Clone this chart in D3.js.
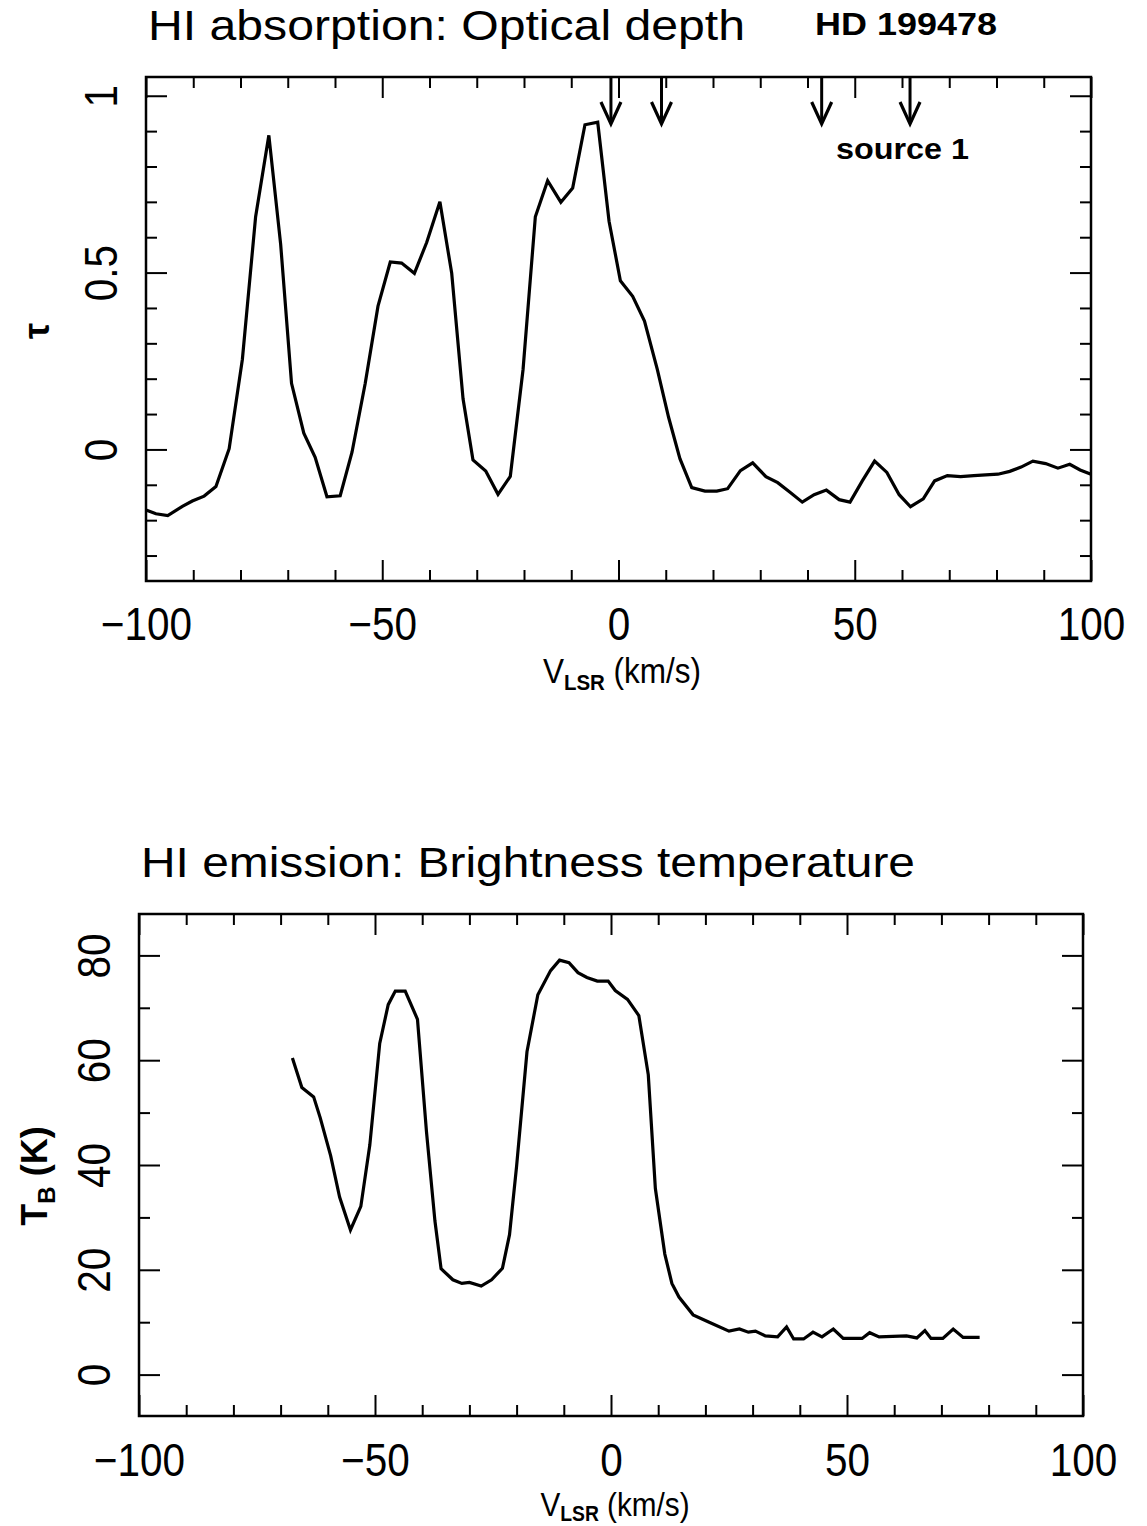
<!DOCTYPE html>
<html>
<head>
<meta charset="utf-8">
<script src="https://cdn.jsdelivr.net/npm/d3@7"></script>
<style>
body { margin: 0; background: #fff; }
svg { display: block; }
text { font-family: "Liberation Sans", Arial, sans-serif; fill: #000; }
</style>
</head>
<body>
<div id="chart"></div>
<script>
// HI absorption toward HD 199478 : optical depth vs V_LSR
var tauVel = [-100, -97.9, -95.4, -92.3, -90.2, -87.7, -85.2, -82.4, -79.6, -76.8,
	-74.0, -71.5, -69.2, -66.6, -64.2, -61.7, -58.9, -56.4, -53.6, -50.9,
	-48.3, -45.9, -43.2, -40.6, -37.8, -35.3, -32.9, -30.8, -28.1, -25.5,
	-22.9, -20.2, -17.6, -15.0, -12.2, -9.7, -7.1, -4.4, -2.0, 0.4,
	3.0, 5.5, 8.2, 10.6, 13.0, 15.5, 18.3, 20.8, 23.1, 25.8,
	28.4, 31.2, 33.7, 36.3, 38.9, 41.4, 44.0, 46.7, 49.0, 51.6,
	54.2, 56.8, 59.4, 61.8, 64.5, 66.9, 69.6, 72.4, 75.2, 77.7,
	80.3, 82.8, 85.2, 87.7, 90.4, 93.0, 95.5, 97.7, 100.0];
var tauVal = [-0.171, -0.182, -0.187, -0.161, -0.146, -0.132, -0.105, 0.002, 0.255, 0.658,
	0.888, 0.580, 0.187, 0.046, -0.022, -0.134, -0.131, -0.008, 0.187, 0.405,
	0.530, 0.527, 0.498, 0.585, 0.700, 0.498, 0.143, -0.030, -0.061, -0.127,
	-0.076, 0.226, 0.658, 0.760, 0.699, 0.739, 0.918, 0.925, 0.645, 0.477,
	0.433, 0.363, 0.227, 0.091, -0.026, -0.108, -0.118, -0.118, -0.111, -0.060,
	-0.038, -0.077, -0.094, -0.121, -0.149, -0.128, -0.115, -0.142, -0.149, -0.089,
	-0.033, -0.065, -0.128, -0.162, -0.140, -0.089, -0.074, -0.077, -0.074, -0.072,
	-0.070, -0.062, -0.050, -0.033, -0.040, -0.053, -0.042, -0.058, -0.070];

// velocities of the absorption components (arrows, "source 1")
var arrowVel = [-1.6, 9.1, 43.0, 61.7];

// HI emission : brightness temperature vs V_LSR
var tbVel = [-67.5, -65.5, -63.0, -61.6, -59.4, -57.5, -55.2, -53.0, -51.1, -49.0,
	-47.2, -45.7, -43.6, -41.0, -39.1, -37.3, -36.0, -33.5, -31.6, -30.0,
	-27.5, -25.3, -23.0, -21.5, -20.0, -17.8, -15.5, -12.8, -10.9, -8.9,
	-7.0, -5.1, -2.9, -0.6, 0.9, 3.5, 5.9, 7.9, 9.4, 11.4,
	12.9, 14.4, 17.4, 20.8, 25.0, 27.2, 29.1, 30.6, 32.7, 35.3,
	37.2, 38.7, 40.8, 42.8, 44.7, 47.1, 49.2, 53.2, 54.8, 56.8,
	62.6, 64.8, 66.5, 67.8, 70.3, 72.5, 74.6, 78.1];
var tbVal = [60.4, 54.8, 53.0, 49.0, 41.8, 33.9, 27.6, 32.1, 43.8, 63.2,
	70.6, 73.2, 73.2, 67.8, 46.4, 29.3, 20.2, 18.1, 17.4, 17.6,
	16.9, 18.1, 20.3, 26.7, 39.8, 61.6, 72.5, 77.1, 79.1, 78.6,
	76.7, 75.8, 75.1, 75.1, 73.3, 71.6, 68.5, 57.2, 35.5, 23.0,
	17.4, 14.8, 11.4, 10.0, 8.3, 8.7, 8.1, 8.3, 7.4, 7.2,
	9.1, 6.8, 6.8, 8.1, 7.2, 8.7, 6.9, 6.9, 8.0, 7.2,
	7.4, 7.0, 8.4, 6.9, 6.9, 8.7, 7.1, 7.1];

// tick values
var velMajor = [-100, -50, 0, 50, 100];
var velMinor = [-90, -80, -70, -60, -40, -30, -20, -10, 10, 20, 30, 40, 60, 70, 80, 90];
var tauMajor = [0, 0.5, 1];
var tauMinor = [-0.3, -0.2, -0.1, 0.1, 0.2, 0.3, 0.4, 0.6, 0.7, 0.8, 0.9];
var tbMajor = [0, 20, 40, 60, 80];
var tbMinor = [10, 30, 50, 70];

var totalWidth = 1147;
var totalHeight = 1526;

var svg = d3.select("#chart").append("svg")
	.attr("width", totalWidth)
	.attr("height", totalHeight);

var velFormat = d3.format("d");

function squeeze(sel, k) {
	sel.each(function () {
		var w = this.getComputedTextLength();
		d3.select(this).attr("textLength", w * k).attr("lengthAdjust", "spacingAndGlyphs");
	});
}

function buildPanel(p) {
	var w = p.right - p.left;
	var h = p.bottom - p.top;

	var x = d3.scaleLinear().domain([-100, 100]).range([0, w]);
	var y = d3.scaleLinear().domain(p.yDomain).range([h, 0]);

	var g = svg.append("g")
		.attr("transform", "translate(" + p.left + "," + p.top + ")");

	function clean(a) {
		a.select(".domain").remove();
		a.selectAll(".tick line").attr("stroke", "#000").attr("stroke-width", 2);
	}

	// ticks on all four sides, pointing inwards
	g.append("g").attr("transform", "translate(0," + h + ")")
		.call(d3.axisBottom(x).tickValues(velMinor).tickSize(-11).tickFormat(""))
		.call(clean);
	var xLab = g.append("g").attr("transform", "translate(0," + h + ")")
		.call(d3.axisBottom(x).tickValues(velMajor).tickSize(-21).tickFormat(velFormat))
		.call(clean);
	g.append("g")
		.call(d3.axisTop(x).tickValues(velMinor).tickSize(-11).tickFormat(""))
		.call(clean);
	g.append("g")
		.call(d3.axisTop(x).tickValues(velMajor).tickSize(-21).tickFormat(""))
		.call(clean);

	g.append("g")
		.call(d3.axisLeft(y).tickValues(p.yMinor).tickSize(-11).tickFormat(""))
		.call(clean);
	var yLab = g.append("g")
		.call(d3.axisLeft(y).tickValues(p.yMajor).tickSize(-21).tickFormat(function (d) { return String(d); }))
		.call(clean);
	g.append("g").attr("transform", "translate(" + w + ",0)")
		.call(d3.axisRight(y).tickValues(p.yMinor).tickSize(-11).tickFormat(""))
		.call(clean);
	g.append("g").attr("transform", "translate(" + w + ",0)")
		.call(d3.axisRight(y).tickValues(p.yMajor).tickSize(-21).tickFormat(""))
		.call(clean);

	xLab.selectAll(".tick text")
		.attr("y", p.xLabelBase - p.bottom)
		.attr("dy", 0)
		.attr("font-size", 46)
		.attr("fill", "#000")
		.attr("font-family", null);
	squeeze(xLab.selectAll(".tick text"), 0.88);

	yLab.selectAll(".tick text")
		.attr("x", 0)
		.attr("dy", 0)
		.attr("text-anchor", "middle")
		.attr("transform", "translate(-29,0) rotate(-90)")
		.attr("font-size", 46)
		.attr("fill", "#000")
		.attr("font-family", null);
	squeeze(yLab.selectAll(".tick text"), 0.88);

	// frame
	g.append("rect")
		.attr("width", w)
		.attr("height", h)
		.attr("fill", "none")
		.attr("stroke", "#000")
		.attr("stroke-width", 2.5);

	var line = d3.line()
		.x(function (d) { return x(d[0]); })
		.y(function (d) { return y(d[1]); });

	g.append("path")
		.datum(d3.zip(p.vel, p.val))
		.attr("d", line)
		.attr("fill", "none")
		.attr("stroke", "#000")
		.attr("stroke-width", 3.2)
		.attr("stroke-linejoin", "miter");

	// x axis title  V_LSR (km/s)
	var xt = svg.append("text")
		.attr("x", p.xTitleX)
		.attr("y", p.xTitleBase)
		.attr("text-anchor", "middle")
		.attr("font-size", p.xTitleSize);
	xt.append("tspan").text("V");
	xt.append("tspan").attr("font-size", p.xTitleSize * 0.65).attr("font-weight", "bold")
		.attr("dy", p.subShift).text("LSR");
	xt.append("tspan").attr("dy", -p.subShift).text(" (km/s)");
	squeeze(xt, 0.9);

	return { g: g, x: x, y: y };
}

// ---------- top panel: optical depth ----------
var tauPanel = buildPanel({
	left: 146, right: 1091, top: 77, bottom: 581,
	yDomain: [-0.372, 1.053],
	yMajor: tauMajor, yMinor: tauMinor,
	vel: tauVel, val: tauVal,
	xLabelBase: 640, xTitleX: 622, xTitleBase: 683, xTitleSize: 35, subShift: 7
});

svg.append("text")
	.attr("x", 148).attr("y", 40)
	.attr("font-size", 43)
	.attr("textLength", 597).attr("lengthAdjust", "spacingAndGlyphs")
	.text("HI  absorption:  Optical  depth");

svg.append("text")
	.attr("x", 815).attr("y", 35)
	.attr("font-size", 32).attr("font-weight", "bold")
	.attr("textLength", 182).attr("lengthAdjust", "spacingAndGlyphs")
	.text("HD 199478");

svg.append("text")
	.attr("transform", "translate(49,331) rotate(-90)")
	.attr("text-anchor", "middle")
	.attr("font-size", 36).attr("font-weight", "bold")
	.text("τ");

// arrows marking the components
var arrows = tauPanel.g.selectAll(".arrow")
	.data(arrowVel)
	.enter().append("g")
	.attr("class", "arrow")
	.attr("transform", function (d) { return "translate(" + tauPanel.x(d) + ",0)"; });
arrows.append("line")
	.attr("x1", 0).attr("x2", 0).attr("y1", 0).attr("y2", 46)
	.attr("stroke", "#000").attr("stroke-width", 3);
arrows.append("polyline")
	.attr("points", "-10,25 0,47 10,25")
	.attr("fill", "none").attr("stroke", "#000").attr("stroke-width", 3.2)
	.attr("stroke-linejoin", "miter");

svg.append("text")
	.attr("x", 836).attr("y", 159)
	.attr("font-size", 30).attr("font-weight", "bold")
	.attr("textLength", 133).attr("lengthAdjust", "spacingAndGlyphs")
	.text("source  1");

// ---------- bottom panel: brightness temperature ----------
var tbPanel = buildPanel({
	left: 139, right: 1083, top: 914, bottom: 1416,
	yDomain: [-7.9, 87.9],
	yMajor: tbMajor, yMinor: tbMinor,
	vel: tbVel, val: tbVal,
	xLabelBase: 1476, xTitleX: 615, xTitleBase: 1516, xTitleSize: 33, subShift: 5
});

svg.append("text")
	.attr("x", 141).attr("y", 877)
	.attr("font-size", 43)
	.attr("textLength", 774).attr("lengthAdjust", "spacingAndGlyphs")
	.text("HI  emission:  Brightness  temperature");

var yt = svg.append("text")
	.attr("transform", "translate(47,1176) rotate(-90)")
	.attr("text-anchor", "middle")
	.attr("font-size", 36).attr("font-weight", "bold");
yt.append("tspan").text("T");
yt.append("tspan").attr("font-size", 24).attr("dy", 8).text("B");
yt.append("tspan").attr("dy", -8).text(" (K)");

</script>
</body>
</html>
